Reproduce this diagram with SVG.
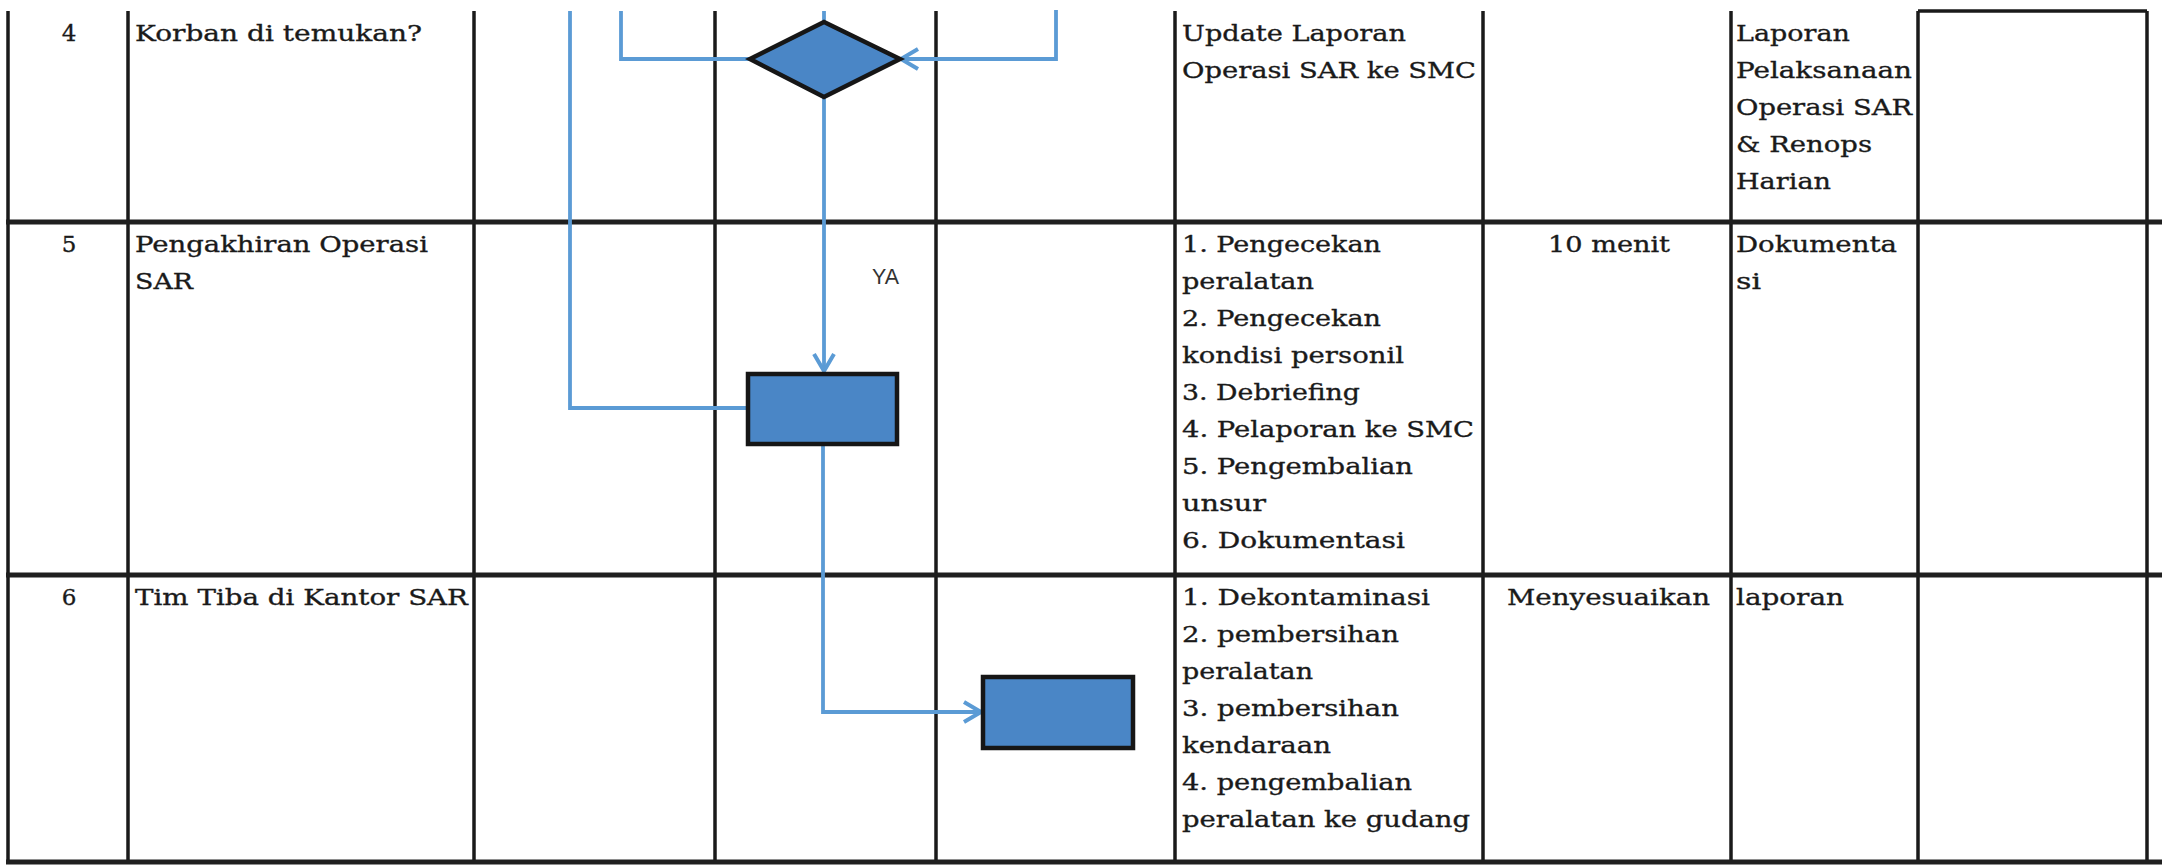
<svg xmlns="http://www.w3.org/2000/svg" width="2162" height="865" viewBox="0 0 2162 865">
  <style>
    .grid { stroke: #1a1a1a; stroke-width: 3.5; fill: none; }
    .row { stroke: #1f1f1f; stroke-width: 5; fill: none; }
    .t { font-family: "DejaVu Serif", "Liberation Serif", serif; font-size: 23px; fill: #1a1a1a; stroke: #1a1a1a; stroke-width: 0.35; }
    .c { text-anchor: middle; }
    .shape { fill: #4A86C6; stroke: #161616; stroke-width: 4.5; stroke-linejoin: miter; }
    .conn { stroke: #5B9BD5; stroke-width: 3.8; fill: none; }
    .lbl { font-family: "Liberation Sans", Arial, sans-serif; font-size: 22px; fill: #333333; }
  </style>
  <defs>
    <marker id="arr" markerUnits="userSpaceOnUse" markerWidth="24" markerHeight="26" refX="20" refY="13" orient="auto">
      <path d="M3,3 L20,13 L3,23" fill="none" stroke="#5B9BD5" stroke-width="4"/>
    </marker>
  </defs>
  <rect x="0" y="0" width="2162" height="865" fill="#ffffff"/>

  <g id="table-grid">
    <line class="grid" x1="8" y1="11" x2="8" y2="862"/>
    <line class="grid" x1="128" y1="11" x2="128" y2="862"/>
    <line class="grid" x1="474" y1="11" x2="474" y2="862"/>
    <line class="grid" x1="715" y1="11" x2="715" y2="862"/>
    <line class="grid" x1="936" y1="11" x2="936" y2="862"/>
    <line class="grid" x1="1175" y1="11" x2="1175" y2="862"/>
    <line class="grid" x1="1483" y1="11" x2="1483" y2="862"/>
    <line class="grid" x1="1731" y1="11" x2="1731" y2="862"/>
    <line class="grid" x1="1918" y1="11" x2="1918" y2="862"/>
    <line class="grid" x1="2147" y1="11" x2="2147" y2="862"/>
    <line class="grid" x1="1918" y1="11" x2="2147" y2="11"/>
    <line class="row" x1="6" y1="222" x2="2162" y2="222"/>
    <line class="row" x1="6" y1="575" x2="2162" y2="575"/>
    <line class="row" x1="6" y1="862" x2="2162" y2="862"/>
  </g>

  <g id="connectors">
    <polyline class="conn" points="570,11 570,408 748,408"/>
    <polyline class="conn" points="621,11 621,59 750,59"/>
    <line class="conn" x1="824" y1="11" x2="824" y2="22"/>
    <polyline class="conn" points="1056,10 1056,59 901,59" marker-end="url(#arr)"/>
    <line class="conn" x1="824" y1="97" x2="824" y2="371" marker-end="url(#arr)"/>
    <polyline class="conn" points="823,444 823,712 981,712" marker-end="url(#arr)"/>
  </g>

  <g id="node-decision">
    <polygon class="shape" points="750,59 824,22 900,59 824,97"/>
  </g>
  <g id="node-process-1">
    <rect class="shape" x="748" y="374" width="149" height="70"/>
  </g>
  <g id="node-process-2">
    <rect class="shape" x="983" y="677" width="150" height="71"/>
  </g>

  <g id="label-ya">
    <text class="lbl" x="872" y="284" textLength="27" lengthAdjust="spacingAndGlyphs">YA</text>
  </g>

  <g id="row-4">
    <text class="t c" x="69" y="41">4</text>
    <text class="t" x="135" y="41" textLength="287" lengthAdjust="spacingAndGlyphs">Korban di temukan?</text>
    <text class="t" x="1182" y="41" textLength="224" lengthAdjust="spacingAndGlyphs">Update Laporan</text>
    <text class="t" x="1182" y="78" textLength="294" lengthAdjust="spacingAndGlyphs">Operasi SAR ke SMC</text>
    <text class="t" x="1736" y="41" textLength="114" lengthAdjust="spacingAndGlyphs">Laporan</text>
    <text class="t" x="1736" y="78" textLength="176" lengthAdjust="spacingAndGlyphs">Pelaksanaan</text>
    <text class="t" x="1736" y="115" textLength="176" lengthAdjust="spacingAndGlyphs">Operasi SAR</text>
    <text class="t" x="1736" y="152" textLength="136" lengthAdjust="spacingAndGlyphs">&amp; Renops</text>
    <text class="t" x="1736" y="189" textLength="95" lengthAdjust="spacingAndGlyphs">Harian</text>
  </g>

  <g id="row-5">
    <text class="t c" x="69" y="252">5</text>
    <text class="t" x="135" y="252" textLength="293" lengthAdjust="spacingAndGlyphs">Pengakhiran Operasi</text>
    <text class="t" x="135" y="289" textLength="58" lengthAdjust="spacingAndGlyphs">SAR</text>
    <text class="t" x="1182" y="252" textLength="199" lengthAdjust="spacingAndGlyphs">1. Pengecekan</text>
    <text class="t" x="1182" y="289" textLength="132" lengthAdjust="spacingAndGlyphs">peralatan</text>
    <text class="t" x="1182" y="326" textLength="199" lengthAdjust="spacingAndGlyphs">2. Pengecekan</text>
    <text class="t" x="1182" y="363" textLength="222" lengthAdjust="spacingAndGlyphs">kondisi personil</text>
    <text class="t" x="1182" y="400" textLength="178" lengthAdjust="spacingAndGlyphs">3. Debriefing</text>
    <text class="t" x="1182" y="437" textLength="292" lengthAdjust="spacingAndGlyphs">4. Pelaporan ke SMC</text>
    <text class="t" x="1182" y="474" textLength="231" lengthAdjust="spacingAndGlyphs">5. Pengembalian</text>
    <text class="t" x="1182" y="511" textLength="84" lengthAdjust="spacingAndGlyphs">unsur</text>
    <text class="t" x="1182" y="548" textLength="223" lengthAdjust="spacingAndGlyphs">6. Dokumentasi</text>
    <text class="t" x="1548" y="252" textLength="122" lengthAdjust="spacingAndGlyphs">10 menit</text>
    <text class="t" x="1736" y="252" textLength="161" lengthAdjust="spacingAndGlyphs">Dokumenta</text>
    <text class="t" x="1736" y="289" textLength="25" lengthAdjust="spacingAndGlyphs">si</text>
  </g>

  <g id="row-6">
    <text class="t c" x="69" y="605">6</text>
    <text class="t" x="135" y="605" textLength="333" lengthAdjust="spacingAndGlyphs">Tim Tiba di Kantor SAR</text>
    <text class="t" x="1182" y="605" textLength="248" lengthAdjust="spacingAndGlyphs">1. Dekontaminasi</text>
    <text class="t" x="1182" y="642" textLength="217" lengthAdjust="spacingAndGlyphs">2. pembersihan</text>
    <text class="t" x="1182" y="679" textLength="131" lengthAdjust="spacingAndGlyphs">peralatan</text>
    <text class="t" x="1182" y="716" textLength="217" lengthAdjust="spacingAndGlyphs">3. pembersihan</text>
    <text class="t" x="1182" y="753" textLength="149" lengthAdjust="spacingAndGlyphs">kendaraan</text>
    <text class="t" x="1182" y="790" textLength="230" lengthAdjust="spacingAndGlyphs">4. pengembalian</text>
    <text class="t" x="1182" y="827" textLength="288" lengthAdjust="spacingAndGlyphs">peralatan ke gudang</text>
    <text class="t" x="1507" y="605" textLength="203" lengthAdjust="spacingAndGlyphs">Menyesuaikan</text>
    <text class="t" x="1736" y="605" textLength="108" lengthAdjust="spacingAndGlyphs">laporan</text>
  </g>
</svg>
